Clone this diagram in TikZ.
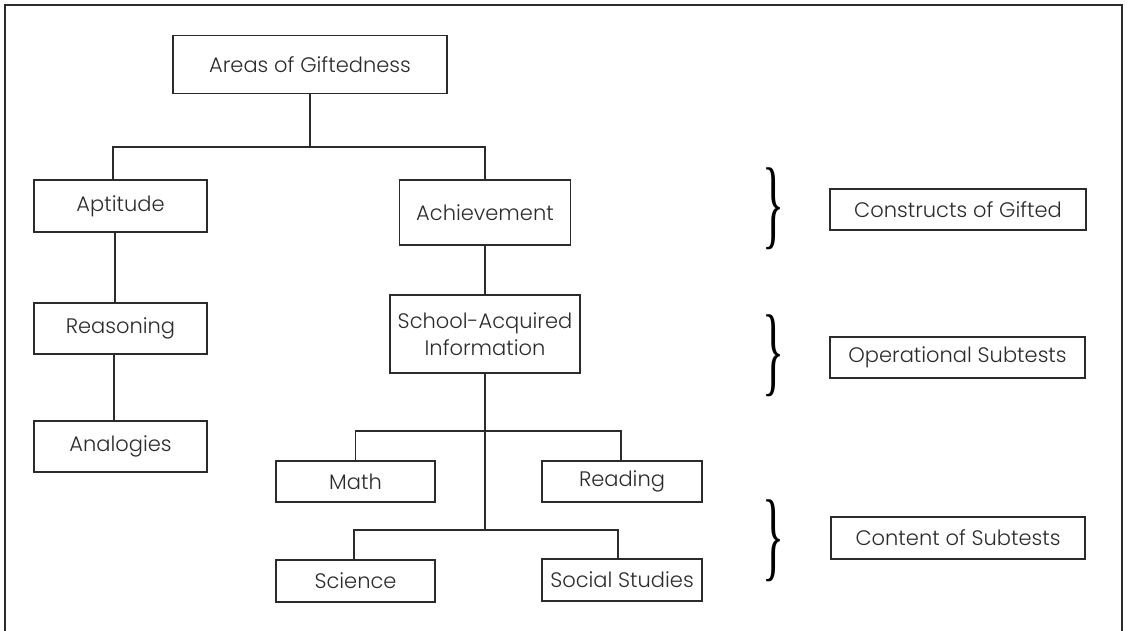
\documentclass[tikz,border=0pt]{standalone}
\usepackage{fontspec}
\setmainfont{Poppins}[UprightFont=* Light]
\newfontfamily\bracefont{Liberation Serif}
\usepackage{graphicx}
\definecolor{ink}{HTML}{2B2B2B}
\tikzset{
  x=1pt, y=-1pt,
  box/.style={draw=ink, line width=1.3pt, rectangle, inner sep=0pt,
              align=center, text=ink, font=\fontsize{21}{25}\selectfont},
  link/.style={draw=ink, line width=1.3pt},
  frame/.style={draw=ink, line width=2.6pt},
  bracenode/.style={inner sep=0pt, text=black}
}
\newcommand{\bigbrace}{\resizebox*{22pt}{82pt}{\bracefont\}}}
\begin{document}
\begin{tikzpicture}
\useasboundingbox (0,0) rectangle (1129,630);
% outer frame, open at the bottom
\draw[frame] (5,631) -- (5,5) -- (1122,5) -- (1122,631);

% tree boxes
\node[box, minimum width=274pt, minimum height=58pt] (areas) at (310,64.5) {Areas of Giftedness};
\node[box, minimum width=173pt, minimum height=52pt] (apt) at (120.5,206) {Aptitude};
\node[box, minimum width=171pt, minimum height=65pt] (ach) at (485,212.5) {Achievement};
\node[box, minimum width=173pt, minimum height=51pt] (reas) at (120.5,328.5) {Reasoning};
\node[box, minimum width=173pt, minimum height=51pt] (anal) at (120.5,446.5) {Analogies};
\node[box, minimum width=190pt, minimum height=78pt] (school) at (485,334) {School-Acquired\\[2pt]Information};
\node[box, minimum width=159pt, minimum height=41pt] (math) at (355.5,481.5) {Math};
\node[box, minimum width=160pt, minimum height=41pt] (read) at (622,481.5) {Reading};
\node[box, minimum width=159pt, minimum height=42pt] (sci) at (355.5,581) {Science};
\node[box, minimum width=160pt, minimum height=42pt] (soc) at (622,580) {Social Studies};

% level labels
\node[box, minimum width=256pt, minimum height=41pt] (constr) at (958,209.5) {Constructs of Gifted};
\node[box, minimum width=255pt, minimum height=41pt] (oper) at (957.5,357.5) {Operational Subtests};
\node[box, minimum width=254pt, minimum height=42pt] (cont) at (958,538) {Content of Subtests};

% braces
\node[bracenode] (b1) at (773,208.5) {\bigbrace};
\node[bracenode] (b2) at (773,356) {\bigbrace};
\node[bracenode] (b3) at (773,541) {\bigbrace};

% junctions
\coordinate (j0) at (310,147);
\coordinate (j1) at (485,431);
\coordinate (j2) at (485,530);

% connectors
\draw[link] (areas.south) -- (j0);
\draw[link] ([xshift=-7.5pt]apt.north) |- (j0) -| (ach.north);
\draw[link] ([xshift=-5.5pt]apt.south) -- ([xshift=-5.5pt]reas.north);
\draw[link] ([xshift=-6.5pt]reas.south) -- ([xshift=-6.5pt]anal.north);
\draw[link] (ach.south) -- (school.north);
\draw[link] (school.south) -- (j2);
\draw[link] (math.north) |- (j1) -| ([xshift=-1pt]read.north);
\draw[link] ([xshift=-1.5pt]sci.north) |- (j2) -| ([xshift=-4pt]soc.north);
\end{tikzpicture}
\end{document}
